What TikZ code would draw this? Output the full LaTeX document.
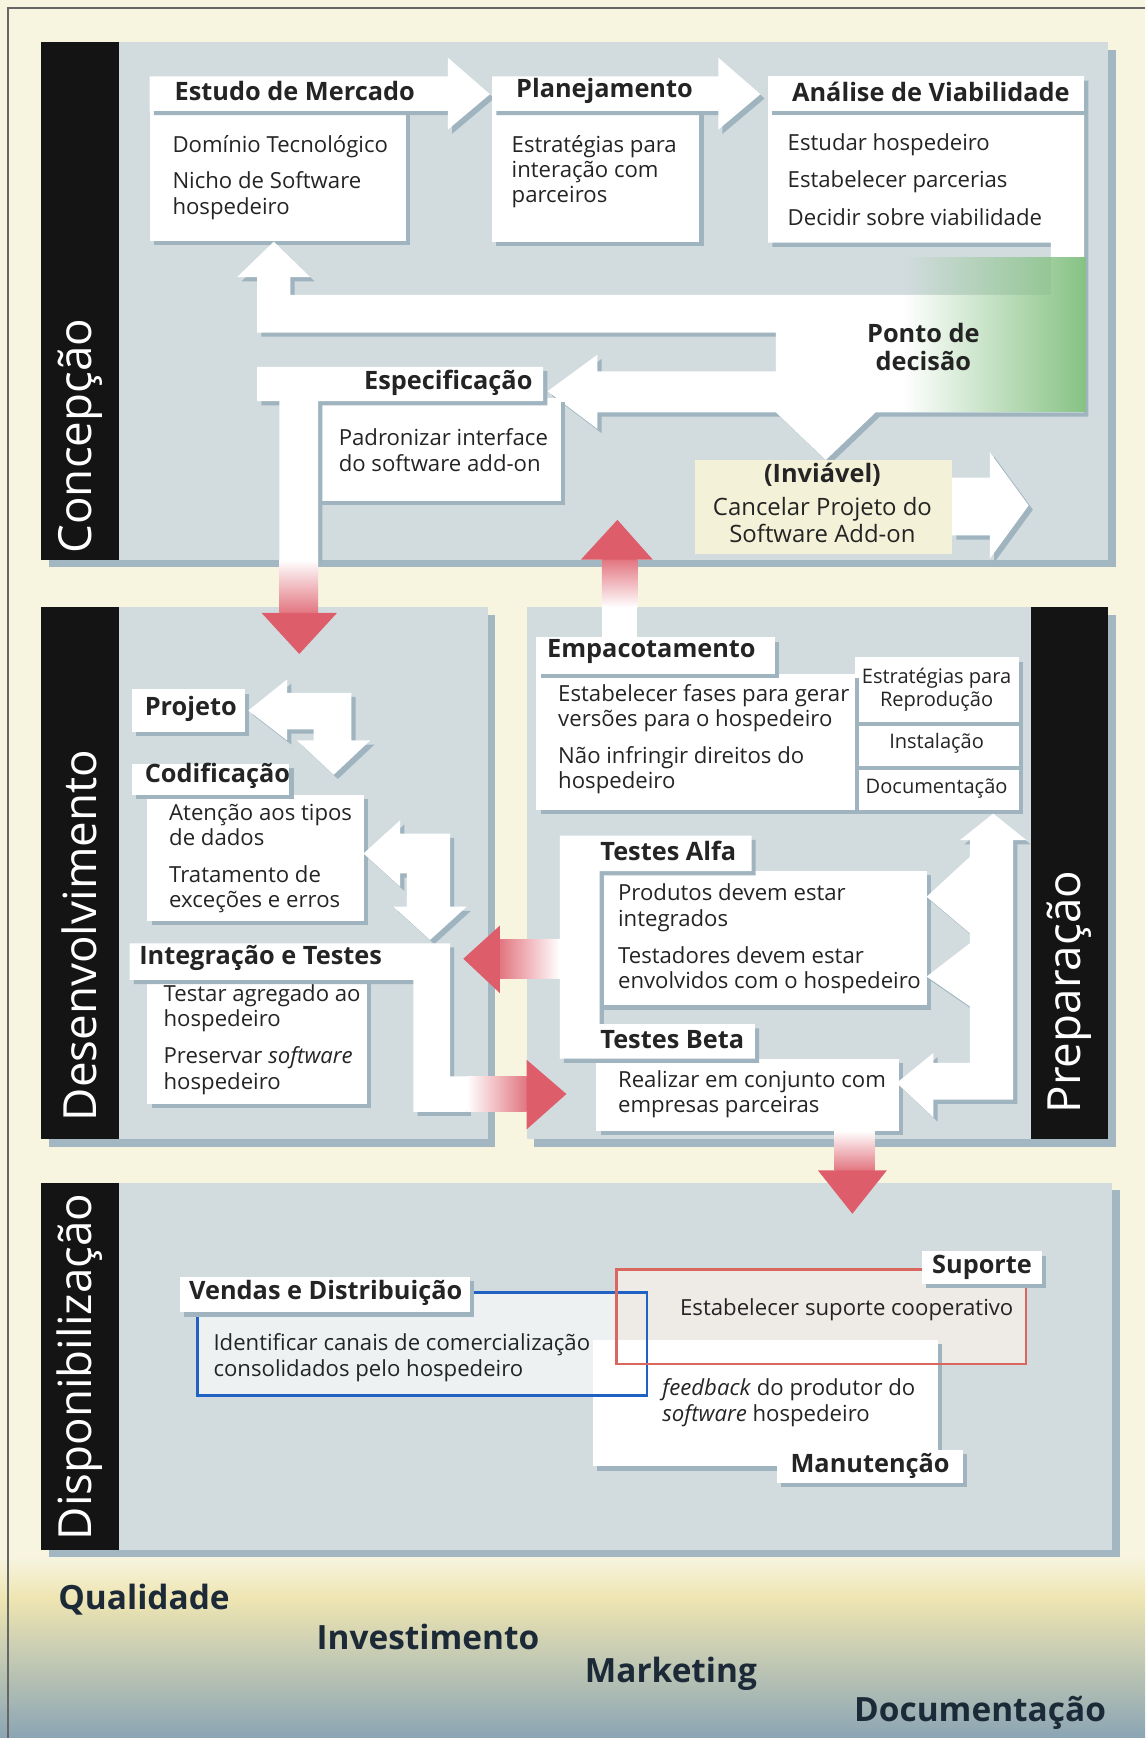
\documentclass[tikz,border=0pt]{standalone}
\usepackage{fontspec}
\setmainfont{Open Sans}
\usetikzlibrary{fit,shadows,fadings,positioning}

\definecolor{cream}{HTML}{F7F4DF}
\definecolor{panelcol}{HTML}{D2DCDF}
\definecolor{panelshd}{HTML}{A2B7C2}
\definecolor{boxshd}{HTML}{9FB4BF}
\definecolor{barcol}{HTML}{141414}
\definecolor{inkcol}{HTML}{242424}
\definecolor{redarr}{HTML}{DD5E6A}
\definecolor{greenpt}{HTML}{86C284}
\definecolor{invcol}{HTML}{F3F1D7}
\definecolor{bluebox}{HTML}{1F62C4}
\definecolor{bluefill}{HTML}{EDF1F2}
\definecolor{redbox}{HTML}{DA6660}
\definecolor{redfill}{HTML}{EEEAE6}
\definecolor{navytxt}{HTML}{1C2A38}
\definecolor{yelband}{HTML}{EEE5B2}
\definecolor{bluegray}{HTML}{8BA5B4}

\tikzfading[name=greenfade, left color=transparent!100, right color=transparent!0]

\newcommand{\bodyfont}{\fontsize{6.3}{7.2}\selectfont}
\newcommand{\headfont}{\fontsize{7.2}{8.2}\selectfont\bfseries}
\newcommand{\sidefont}{\fontsize{5.7}{6.6}\selectfont}
\newcommand{\barfont}{\fontsize{13}{15}\selectfont}
\newcommand{\footfont}{\fontsize{9.5}{11}\selectfont\bfseries}

\begin{document}
\begin{tikzpicture}[x=0.011084cm, y=-0.011084cm,
  panel/.style={fill=panelcol, inner sep=0pt, drop shadow={shadow xshift=2.2pt, shadow yshift=-2.2pt, fill=panelshd, opacity=1}},
  bar/.style={fill=barcol, inner sep=0pt},
  wshade/.style={drop shadow={shadow xshift=1.2pt, shadow yshift=-1.2pt, fill=boxshd, opacity=1}},
  wbox/.style={fill=white, inner sep=0pt, wshade},
  warrow/.style={fill=white, wshade},
  redhead/.style={fill=redarr},
  body/.style={text=inkcol, font=\bodyfont, align=left, inner sep=0pt, anchor=west},
  head/.style={text=inkcol, font=\headfont, inner sep=0pt, anchor=west},
  side/.style={text=inkcol, font=\sidefont, align=center, inner sep=0pt},
  barlabel/.style={text=white, font=\barfont, rotate=90, anchor=west, inner sep=0pt},
  foot/.style={text=navytxt, font=\footfont, anchor=west, inner sep=0pt}]
  \useasboundingbox (0,0) rectangle (1033,1568);
  % background and frame
  \fill[cream] (0,0) rectangle (1033,1568);
  \shade[top color=cream, bottom color=yelband] (0,1405) rectangle (1033,1442);
  \shade[top color=yelband, bottom color=bluegray] (0,1442) rectangle (1033,1568);
  \draw[black!60, line width=0.5pt] (7,1568) -- (7,7) -- (1033,7);

  % the four panels
  \node[panel, fit={(37,38) (1000,505)}] (pconc) {};
  \node[bar, fit={(37,38) (107,505)}] (bconc) {};
  \node[panel, fit={(37,548) (440,1028)}] (pdes) {};
  \node[bar, fit={(37,548) (107,1028)}] (bdes) {};
  \node[panel, fit={(475,548) (1000,1028)}] (pprep) {};
  \node[bar, fit={(930,548) (1000,1028)}] (bprep) {};
  \node[panel, fit={(37,1067) (1003,1398)}] (pdisp) {};
  \node[bar, fit={(37,1067) (107,1398)}] (bdisp) {};

  % concepcao: estudo, planejamento
  \node[wbox, fit={(135,100) (366,217)}] (em) {};
  \fill[warrow] (135,69) -- (404,69) -- (404,52) -- (442,85) -- (404,117) -- (404,100) -- (135,100) -- cycle;
  \node[wbox, fit={(444,100) (631,218)}] (pl) {};
  \fill[warrow] (444,69) -- (648,69) -- (648,52) -- (686,85) -- (648,117) -- (648,100) -- (444,100) -- cycle;
  % analise + ponto de decisao loop
  \fill[warrow] (247,218) -- (280,250) -- (262,250) -- (262,266) -- (948,266) -- (948,219) -- (693,219)
    -- (693,69) -- (978,69) -- (978,372) -- (790,372) -- (745,415) -- (700,372) -- (539,372)
    -- (539,387) -- (494,353) -- (539,320) -- (539,335) -- (700,335) -- (700,300) -- (232,300)
    -- (232,250) -- (214,250) -- cycle;
  \node[wbox, fit={(693,69) (978,100)}] (avhd) {};
  \fill[greenpt, path fading=greenfade] (815,232) rectangle (980,372);
  % especificacao
  \node[wbox, fit={(287,359) (506,452)}] (es) {};
  \fill[warrow] (232,331) -- (490,331) -- (490,362) -- (287,362) -- (287,505) -- (252,505) -- (252,362) -- (232,362) -- cycle;
  \shade[top color=white, bottom color=redarr!85] (252,505) rectangle (287,553);
  \fill[redhead] (236,553) -- (270,590) -- (304,553) -- cycle;
  % inviavel
  \node[fill=invcol, inner sep=0pt, fit={(627,415) (859,500)}] (inv) {};
  \fill[warrow] (859,431) -- (893,431) -- (893,408) -- (928,456) -- (893,504) -- (893,483) -- (859,483) -- cycle;
  % from empacotamento back up
  \shade[bottom color=white, top color=redarr!85] (543,505) rectangle (575,548);
  \fill[redhead] (524,505) -- (557,469) -- (589,505) -- cycle;
  \fill[white] (543,548) rectangle (575,576);

  % desenvolvimento
  \node[wbox, fit={(119,622) (221,660)}] (pj) {};
  \fill[warrow] (224,641) -- (259,613) -- (259,625) -- (317,625) -- (317,668) -- (334,668) -- (301,699)
    -- (268,668) -- (283,668) -- (283,658) -- (259,658) -- (259,668) -- cycle;
  \node[wbox, fit={(133,717) (328,831)}] (cd) {};
  \node[wbox, fit={(119,689) (261,717)}] (cdhd) {};
  \fill[warrow] (328,770) -- (361,740) -- (361,752) -- (406,752) -- (406,818) -- (421,818) -- (388,848)
    -- (355,818) -- (367,818) -- (367,788) -- (361,788) -- (361,800) -- cycle;
  \node[wbox, fit={(133,884) (331,996)}] (it) {};
  \fill[warrow] (117,851) -- (406,851) -- (406,971) -- (421,971) -- (421,1003) -- (373,1003) -- (373,884) -- (117,884) -- cycle;
  \shade[left color=white, right color=redarr!85] (421,971) rectangle (475,1003);
  \fill[redhead] (475,956) -- (511,987) -- (475,1019) -- cycle;

  % preparacao
  \node[wbox, fit={(771,691) (919,731)}] (doc) {};
  \node[wbox, fit={(771,651) (919,691)}] (inst) {};
  \node[wbox, fit={(771,593) (919,651)}] (rep) {};
  \node[wbox, fit={(484,608) (771,731)}] (emp) {};
  \node[wbox, fit={(484,575) (699,608)}] (emphd) {};
  \node[wbox, fit={(538,786) (836,907)}] (alfa) {};
  \node[wbox, fit={(538,955) (811,1020)}] (beta) {};
  \fill[warrow] (505,754) -- (678,754) -- (678,786) -- (541,786) -- (541,924) -- (681,924) -- (681,955) -- (505,955) -- cycle;
  \shade[left color=redarr!85, right color=white] (451,848) rectangle (505,883);
  \fill[redhead] (451,835) -- (418,865) -- (451,896) -- cycle;
  \fill[warrow] (896,734) -- (926,758) -- (914,758) -- (914,992) -- (842,992) -- (842,1008) -- (809,977)
    -- (842,950) -- (842,959) -- (875,959) -- (875,908) -- (836,881) -- (875,851) -- (875,842)
    -- (836,809) -- (875,773) -- (875,758) -- (866,758) -- cycle;
  \shade[top color=white, bottom color=redarr!85] (753,1020) rectangle (789,1056);
  \fill[redhead] (738,1056) -- (769,1095) -- (800,1056) -- cycle;

  % disponibilizacao
  \node[fill=bluefill, inner sep=0pt, fit={(179,1167) (583,1258)}] (vd) {};
  \node[fill=redfill, inner sep=0pt, fit={(557,1146) (925,1230)}] (sup) {};
  \node[wbox, fit={(535,1209) (846,1323)}] (man) {};
  \draw[bluebox, line width=0.8pt] (vd.north west) rectangle (vd.south east);
  \draw[redbox, line width=0.7pt] (sup.north west) rectangle (sup.south east);
  \node[wbox, fit={(162,1152) (424,1184)}] (vdhd) {};
  \node[wbox, fit={(832,1129) (940,1158)}] (suphd) {};
  \node[wbox, fit={(701,1308) (869,1338)}] (manhd) {};

  % texts
  \node[barlabel] (lbconc) at (72,500) {Concepção};
  \node[barlabel] (lbdes) at (72,1012) {Desenvolvimento};
  \node[barlabel] (lbprep) at (965,1005) {Preparação};
  \node[barlabel] (lbdisp) at (72,1390) {Disponibilização};

  \node[head] (emh) at (157,82) {Estudo de Mercado};
  \node[body] (emt) at (155,160) {Domínio Tecnológico\\[3.3pt]Nicho de Software\\hospedeiro};
  \node[head] (plh) at (465,82) {Planejamento};
  \node[body] (plt) at (461,155) {Estratégias para\\interação com\\parceiros};
  \node[head] (avh) at (714,83) {Análise de Viabilidade};
  \node[body] (avt) at (710,162) {Estudar hospedeiro\\[3.5pt]Estabelecer parcerias\\[3.5pt]Decidir sobre viabilidade};
  \node[head, anchor=center, align=center] (ptd) at (833,313) {Ponto de\\decisão};
  \node[head, anchor=east] (esh) at (481,345) {Especificação};
  \node[body] (est) at (305,406) {Padronizar interface\\do software add-on};
  \node[head, anchor=center] (invh) at (742,428) {(Inviável)};
  \node[body, anchor=center, align=center, font=\fontsize{6.8}{7.6}\selectfont] (invt) at (742,469) {Cancelar Projeto do\\Software Add-on};

  \node[head] (pjh) at (130,640) {Projeto};
  \node[head] (cdh) at (130,700) {Codificação};
  \node[body] (cdt) at (152,774.5) {Atenção aos tipos\\de dados\\[3.3pt]Tratamento de\\exceções e erros};
  \node[head] (ith) at (125,864) {Integração e Testes};
  \node[body] (itt) at (147,938) {Testar agregado ao\\hospedeiro\\[3.3pt]Preservar \textit{software}\\hospedeiro};

  \node[head] (emph) at (493,588) {Empacotamento};
  \node[body] (empt) at (503,667) {Estabelecer fases para gerar\\versões para o hospedeiro\\[3.3pt]Não infringir direitos do\\hospedeiro};
  \node[side] (rept) at (rep) {Estratégias para\\Reprodução};
  \node[side] (instt) at (inst) {Instalação};
  \node[side] (doct) at (doc) {Documentação};
  \node[head] (alfah) at (541,768) {Testes Alfa};
  \node[body] (alfat) at (557,847) {Produtos devem estar\\integrados\\[3.3pt]Testadores devem estar\\envolvidos com o hospedeiro};
  \node[head] (betah) at (541,938) {Testes Beta};
  \node[body] (betat) at (557,987.5) {Realizar em conjunto com\\empresas parceiras};

  \node[head] (vdh) at (170,1166) {Vendas e Distribuição};
  \node[body] (vdt) at (192,1225) {Identificar canais de comercialização\\consolidados pelo hospedeiro};
  \node[head, anchor=center] (suph) at (886,1143) {Suporte};
  \node[body] (supt) at (613,1182) {Estabelecer suporte cooperativo};
  \node[body] (mant) at (597,1265.5) {\textit{feedback} do produtor do\\\textit{software} hospedeiro};
  \node[head, anchor=center] (manh) at (785,1323) {Manutenção};

  % bottom themes
  \node[foot] (fq) at (52,1443) {Qualidade};
  \node[foot] (fi) at (285,1477) {Investimento};
  \node[foot] (fm) at (527,1510) {Marketing};
  \node[foot] (fd) at (770,1545) {Documentação};
\end{tikzpicture}
\end{document}
